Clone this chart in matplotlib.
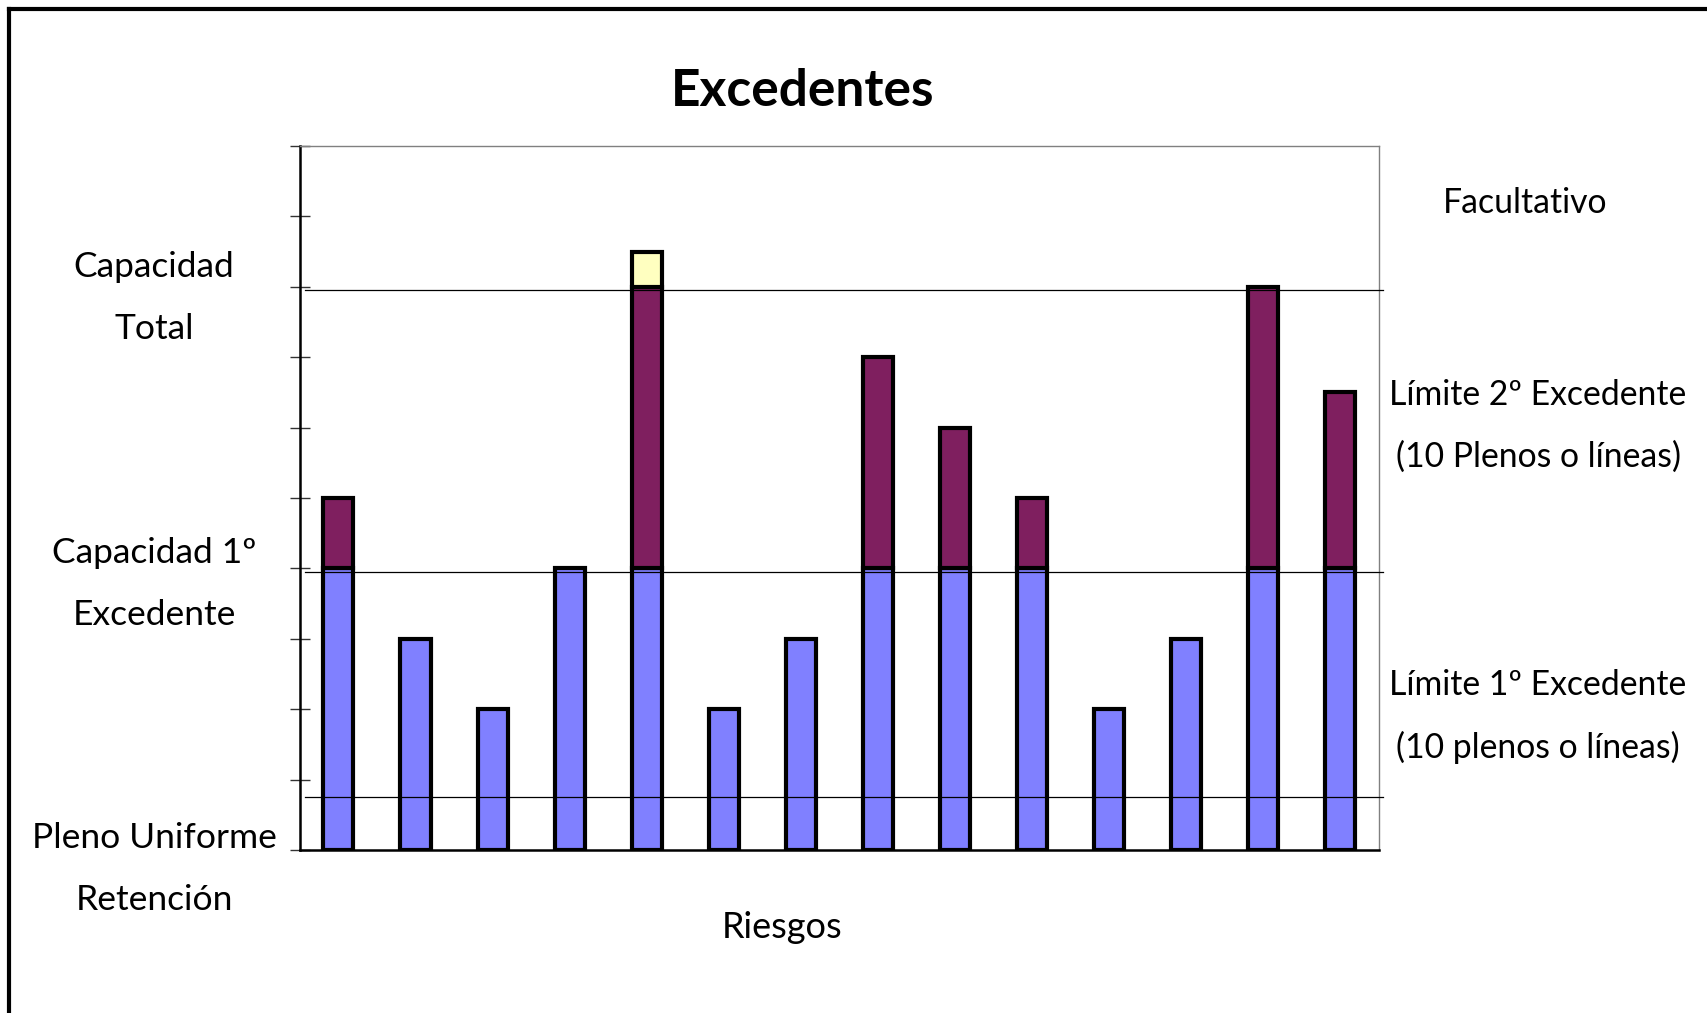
import numpy as np
import matplotlib
matplotlib.use("Agg")
import matplotlib.pyplot as plt
from matplotlib.lines import Line2D

# bar segments per risk (in "plenos")
riesgos = np.arange(14)
primer_exc = [4, 3, 2, 4, 4, 2, 3, 4, 4, 4, 2, 3, 4, 4]
segundo_exc = [1, 0, 0, 0, 4, 0, 0, 3, 2, 1, 0, 0, 4, 2.5]
facultativo = [0, 0, 0, 0, 0.5, 0, 0, 0, 0, 0, 0, 0, 0, 0]

# horizontal limit lines
niveles = [0.75, 3.95, 7.95]

plt.rcParams['font.family'] = ['Lato', 'DejaVu Sans']

fig = plt.figure(figsize=(17.07, 10.13), dpi=100)
ax = fig.add_axes([0.1757, 0.1609, 0.6321, 0.695])

w = 0.39
edge = dict(edgecolor='black', linewidth=3)
ax.bar(riesgos, primer_exc, w, color='#8080FF', **edge, zorder=2)

m2 = np.array(segundo_exc) > 0
ax.bar(riesgos[m2], np.array(segundo_exc)[m2], w,
       bottom=np.array(primer_exc)[m2], color='#7F1F5F', **edge, zorder=2)

m3 = np.array(facultativo) > 0
base3 = (np.array(primer_exc) + np.array(segundo_exc))[m3]
ax.bar(riesgos[m3], np.array(facultativo)[m3], w, bottom=base3,
       color='#FFFFC0', **edge, zorder=2)

for lv in niveles:
    ax.plot([-0.435, 13.55], [lv, lv], color='black', lw=0.9, zorder=3, clip_on=False)

ax.set_xlim(-0.5, 13.5)
ax.set_ylim(0, 10)
ax.set_xticks([])
ax.set_yticks(np.arange(0, 11))
ax.set_yticklabels([])
ax.tick_params(axis='y', direction='inout', length=14.4, width=1, color='#333333')

for s in ['top', 'right']:
    ax.spines[s].set_color('#808080')
    ax.spines[s].set_linewidth(1)
for s in ['left', 'bottom']:
    ax.spines[s].set_color('black')
    ax.spines[s].set_linewidth(1.8)

def fx(px):
    return px / 1707

def fy(py):
    return 1 - py / 1013

fig.text(fx(803), fy(92), 'Excedentes', fontsize=37, fontweight='bold',
         ha='center', va='center')
fig.text(fx(782), fy(927), 'Riesgos', fontsize=26, ha='center', va='center')

izq = [('Capacidad', 267), ('Total', 329),
       ('Capacidad 1º', 553), ('Excedente', 615),
       ('Pleno Uniforme', 838), ('Retención', 900)]
for txt, y in izq:
    fig.text(fx(154), fy(y), txt, fontsize=25.5, ha='center', va='center')

der = [('Facultativo', 1525, 203),
       ('Límite 2º Excedente', 1538, 395), ('(10 Plenos o líneas)', 1538, 457),
       ('Límite 1º Excedente', 1538, 685), ('(10 plenos o líneas)', 1538, 747)]
for txt, x, y in der:
    fig.text(fx(x), fy(y), txt, fontsize=24.3, ha='center', va='center')

# outer frame (top and left only)
fig.add_artist(Line2D([fx(9), 1], [fy(9), fy(9)], color='black', lw=3))
fig.add_artist(Line2D([fx(9), fx(9)], [fy(9), 0], color='black', lw=3))

fig.savefig('out.png', dpi=100)
